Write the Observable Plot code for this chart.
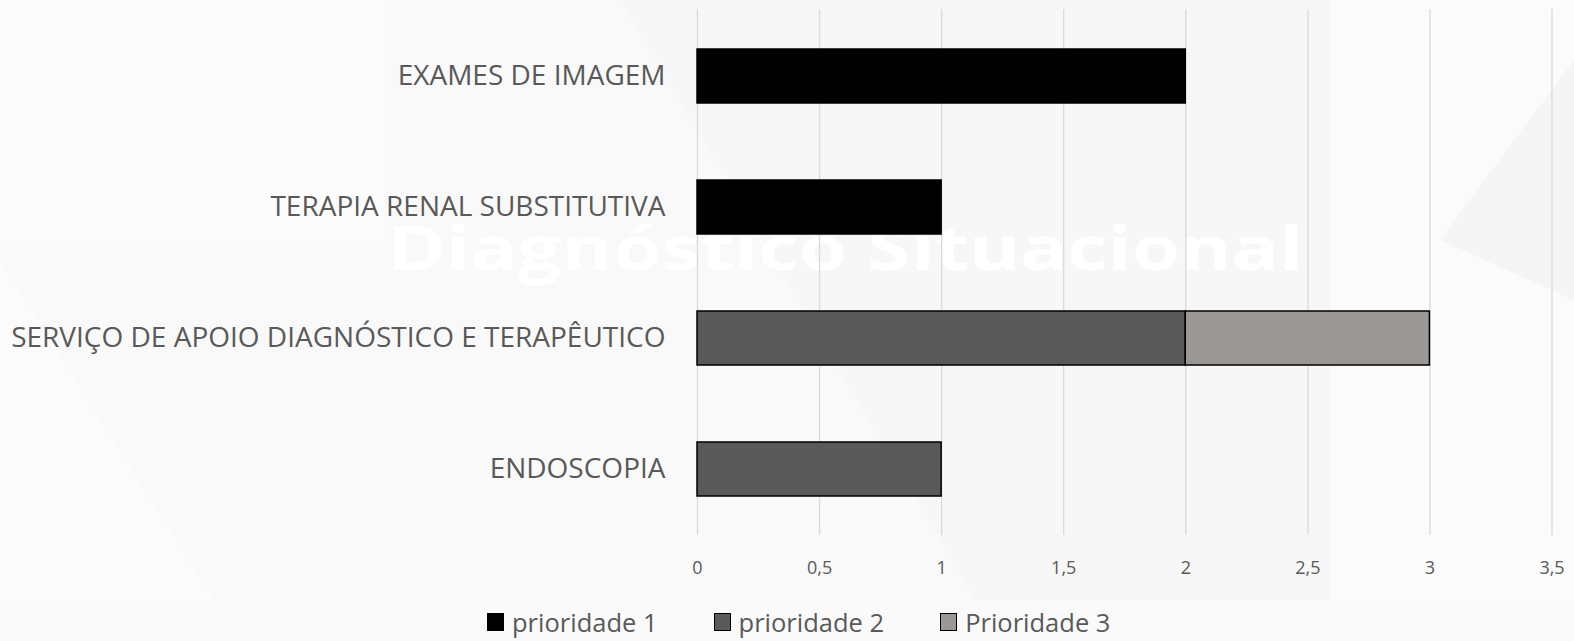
<!DOCTYPE html>
<html>
<head>
<meta charset="utf-8">
<script src="https://cdn.jsdelivr.net/npm/d3@7"></script>
<script src="https://cdn.jsdelivr.net/npm/@observablehq/plot@0.6"></script>
<style>
  html, body { margin: 0; padding: 0; background: #f8f8f8; }
  #wrap { position: relative; width: 1574px; height: 641px; overflow: hidden; font-family: "Open Sans", sans-serif; }
  #bg { position: absolute; left: 0; top: 0; }
  #chart { position: absolute; left: 0; top: 0; }
  #chart svg { background: transparent !important; }
  #legend { position: absolute; left: 487px; top: 605px; display: flex; align-items: center; color: #595959; font-size: 25.5px; white-space: nowrap; }
  .item { display: flex; align-items: center; margin-right: 56px; }
  .sw { width: 15px; height: 16px; border: 1.5px solid #000; margin-right: 8px; box-sizing: content-box; }
</style>
</head>
<body>
<div id="wrap">
  <svg id="bg" width="1574" height="641">
    <rect x="0" y="0" width="1574" height="641" fill="#f7f7f7"/>
    <rect x="0" y="0" width="383" height="240" fill="#fcfcfc"/>
    <polygon points="0,240 383,240 383,641 0,641" fill="#f9f9f9"/>
    <polygon points="0,260 0,641 240,641" fill="#fbfbfb"/>
    <polygon points="383,0 620,0 1000,641 383,641" fill="#f9f9f9"/>
    <polygon points="1330,0 1574,0 1574,641 1330,641" fill="#fbfbfb"/>
    <polygon points="1574,60 1574,300 1440,240" fill="#f5f5f5"/>
    <rect x="0" y="600" width="1574" height="41" fill="#fafafa"/>
    <text x="388" y="270" font-family="Open Sans" font-weight="700" font-size="60" fill="#ffffff" textLength="915" lengthAdjust="spacingAndGlyphs">Diagnóstico Situacional</text>
  </svg>
  <div id="chart"></div>
  <div id="legend"></div>
</div>
<script>
const categories = [
  "EXAMES DE IMAGEM",
  "TERAPIA RENAL SUBSTITUTIVA",
  "SERVIÇO DE APOIO DIAGNÓSTICO E TERAPÊUTICO",
  "ENDOSCOPIA"
];
const series = ["prioridade 1", "prioridade 2", "Prioridade 3"];
const prioridade1 = [2, 1, 0, 0];
const prioridade2 = [0, 0, 2, 1];
const prioridade3 = [0, 0, 1, 0];
const seriesColors = ["#000000", "#595959", "#9b9795"];
const xTicks = [0, 0.5, 1, 1.5, 2, 2.5, 3, 3.5];

const values = [prioridade1, prioridade2, prioridade3];
const rows = [];
series.forEach((s, si) => {
  categories.forEach((c, ci) => {
    if (values[si][ci] > 0) rows.push({category: c, series: s, value: values[si][ci]});
  });
});

const fmt = d => String(d).replace(".", ",");

const chart = Plot.plot({
  width: 1574,
  height: 590,
  marginLeft: 697,
  marginRight: 22.5,
  marginTop: 9,
  marginBottom: 55,
  style: {fontFamily: "Open Sans", color: "#595959", background: "transparent"},
  x: {domain: [0, 3.5], ticks: xTicks},
  y: {domain: categories, paddingInner: 0.59, paddingOuter: 0.295},
  color: {domain: series, range: seriesColors},
  marks: [
    Plot.gridX(xTicks, {stroke: "#d9d9d9", strokeOpacity: 1, strokeWidth: 1.3}),
    Plot.barX(rows, Plot.stackX({
      y: "category",
      x: "value",
      fill: "series",
      order: series,
      stroke: "#000",
      strokeWidth: 1.5
    })),
    Plot.axisX(xTicks, {tickSize: 0, tickPadding: 26, fontSize: 18, tickFormat: fmt, fill: "#595959", label: null}),
    Plot.axisY({tickSize: 0, tickPadding: 32, fontSize: 28, fill: "#595959", label: null})
  ]
});
document.getElementById("chart").appendChild(chart);

const legend = document.getElementById("legend");
series.forEach((s, i) => {
  const item = document.createElement("div");
  item.className = "item";
  const sw = document.createElement("div");
  sw.className = "sw";
  sw.style.background = seriesColors[i];
  const t = document.createElement("span");
  t.textContent = s;
  item.appendChild(sw);
  item.appendChild(t);
  legend.appendChild(item);
});
</script>
</body>
</html>
